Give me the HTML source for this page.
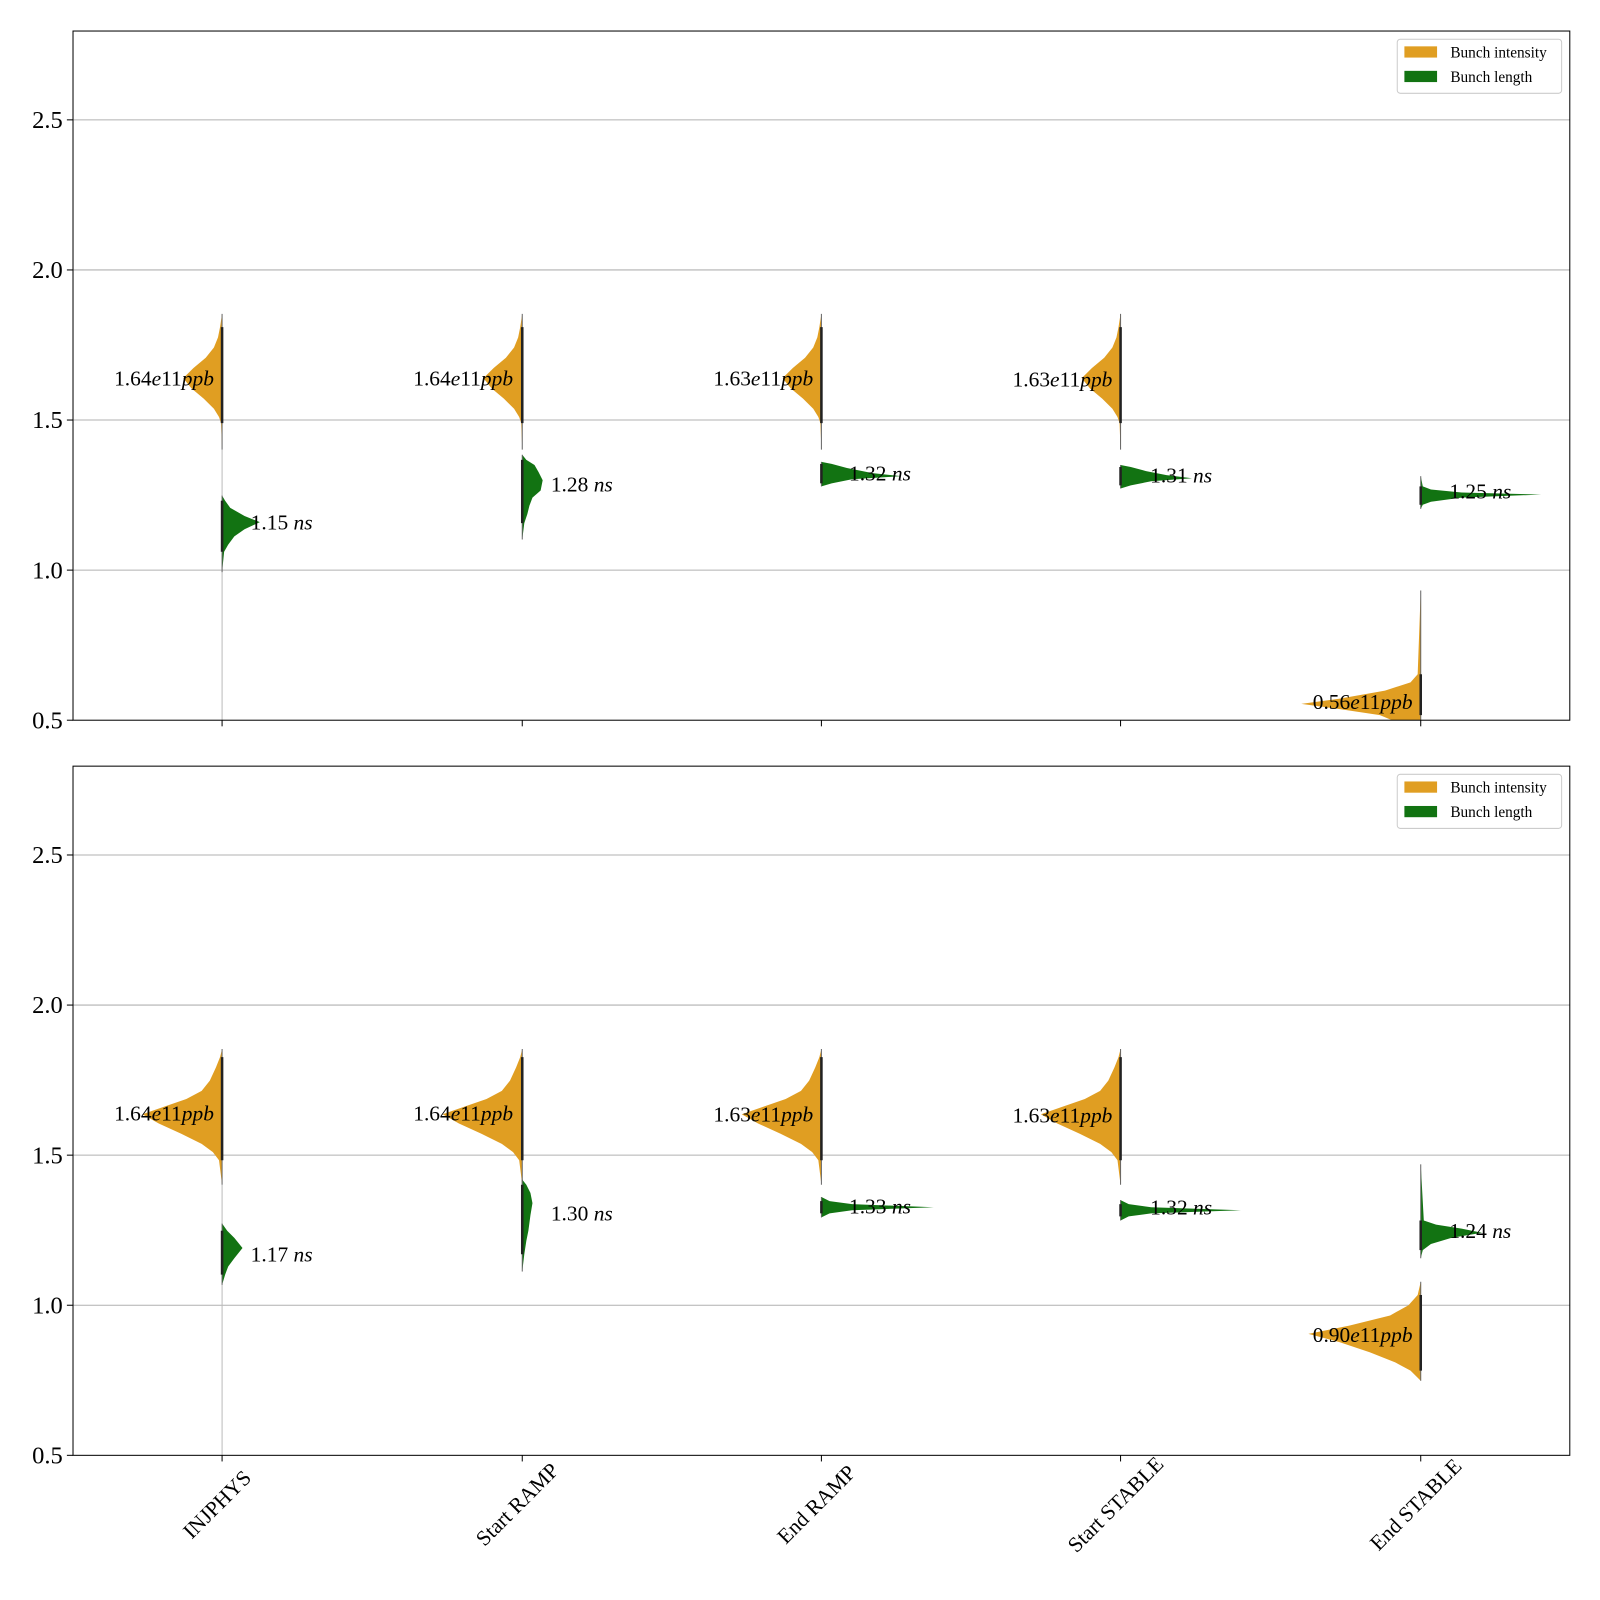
<!DOCTYPE html>
<html><head><meta charset="utf-8"><style>
html,body{margin:0;padding:0;background:#fff;width:1600px;height:1600px;overflow:hidden}
svg{display:block;position:absolute;left:0;top:0}
text{font-family:"Liberation Serif",serif}
</style></head><body>
<svg width="1600" height="1600" xmlns="http://www.w3.org/2000/svg"><g id="s" transform="translate(-0.5,0.4) scale(1.021)"></g></svg>
<script>
const S=document.getElementById('s');let h='';
const OR='#e09e22',GR='#127312';
const xs=[218,512,805,1098,1392];
function grid(t,b){
  h+=`<rect x="72" y="${t}" width="1466" height="${b-t}" fill="#fff"/>`;
  [0.5,1,1.5,2,2.5].forEach(v=>{const y=b-(v-0.5)*294;
    if(v>0.5)h+=`<line x1="72" x2="1538" y1="${y}" y2="${y}" stroke="#b0b0b0" stroke-width="1"/>`;
    h+=`<line x1="66" x2="72" y1="${y}" y2="${y}" stroke="#000"/>`;
    h+=`<text x="62" y="${y+8}" font-size="24" text-anchor="end">${v.toFixed(1)}</text>`;});
  xs.forEach(x=>h+=`<line x1="${x}" x2="${x}" y1="${b}" y2="${b+6}" stroke="#000"/>`);
}
function vio(x,pts,side,col,off){
  let d='M'+x+','+(pts[0][0]+off);
  pts.forEach(p=>{d+=' L'+(x+side*p[1])+','+(p[0]+off)});
  d+=' L'+x+','+(pts[pts.length-1][0]+off)+'Z';
  h+=`<path d="${d}" fill="${col}"/>`;
  let a=pts[1][0]+off,b=pts[pts.length-2][0]+off;
  h+=`<line x1="${x}" x2="${x}" y1="${pts[0][0]+off}" y2="${pts[pts.length-1][0]+off}" stroke="#666" stroke-width="1"/>`;
  h+=`<line x1="${x}" x2="${x}" y1="${a}" y2="${b}" stroke="#222" stroke-width="2.5"/>`;
}
function lab(x,y,a,html){h+=`<text x="${x}" y="${y+7}" font-size="21" text-anchor="${a}">${html}</text>`}
function ppb(v){return `${v}<tspan font-style="italic">e</tspan>11<tspan font-style="italic">ppb</tspan>`}
function ns(v){return `${v} <tspan font-style="italic">ns</tspan>`}
function legend(t){
  h+=`<rect x="1369" y="${t}" width="161" height="53" rx="3" fill="#fff" stroke="#ccc"/>`;
  h+=`<rect x="1376" y="${t+7}" width="32" height="11" fill="${OR}"/><text x="1421" y="${t+18}" font-size="15">Bunch intensity</text>`;
  h+=`<rect x="1376" y="${t+31}" width="32" height="11" fill="${GR}"/><text x="1421" y="${t+42}" font-size="15">Bunch length</text>`;
}
grid(30,705);
h+=`<line x1="218" x2="218" y1="440" y2="705" stroke="#bbb"/>`;
const oTop=[[307,0],[320,2],[330,4],[340,8],[350,16],[360,28],[370,38],[380,30],[390,18],[400,8],[408,3],[414,1],[440,0]];
[0,1,2,3].forEach(i=>vio(xs[i],oTop,-1,OR,0));
lab(210,370,'end',ppb('1.64'));lab(503,370,'end',ppb('1.64'));lab(797,370,'end',ppb('1.63'));lab(1090,371,'end',ppb('1.63'));
vio(218,[[485,0],[490,3],[497,8],[505,22],[511,37],[518,22],[525,12],[533,6],[540,2],[560,0]],1,GR,0);lab(246,511,'start',ns('1.15'));
vio(512,[[445,0],[450,4],[455,12],[462,16],[470,20],[480,18],[487,10],[495,7],[503,5],[512,2],[528,0]],1,GR,0);lab(540,474,'start',ns('1.28'));
vio(805,[[452,0],[454,10],[458,25],[463,50],[466,78],[469,30],[473,10],[476,0]],1,GR,0);lab(832,463,'start',ns('1.32'));
vio(1098,[[455,0],[457,10],[461,25],[465,45],[468,70],[471,30],[475,10],[478,0]],1,GR,0);lab(1127,465,'start',ns('1.31'));
vio(1392,[[466,0],[476,2],[479,10],[482,40],[484,118],[487,40],[491,10],[494,2],[498,0]],1,GR,0);lab(1420,481,'start',ns('1.25'));
vio(1392,[[578,0],[660,3],[668,10],[676,35],[684,80],[689,117],[694,80],[700,40],[705,28]],-1,OR,0);lab(1384,687,'end',ppb('0.56'));
h+=`<rect x="72" y="30" width="1466" height="675" fill="none" stroke="#000" stroke-width="1"/>`;
legend(38);
grid(750,1425);
h+=`<line x1="218" x2="218" y1="1160" y2="1425" stroke="#bbb"/>`;
const oBot=[[1027,0],[1035,2],[1045,6],[1058,12],[1068,20],[1076,35],[1084,58],[1091,78],[1100,62],[1110,40],[1120,20],[1128,9],[1136,3],[1160,0]];
[0,1,2,3].forEach(i=>vio(xs[i],oBot,-1,OR,0));
lab(210,1090,'end',ppb('1.64'));lab(503,1090,'end',ppb('1.64'));lab(797,1091,'end',ppb('1.63'));lab(1090,1092,'end',ppb('1.63'));
vio(218,[[1198,0],[1205,5],[1212,12],[1222,20],[1232,12],[1240,6],[1248,3],[1258,0]],1,GR,0);lab(246,1228,'start',ns('1.17'));
vio(512,[[1155,0],[1160,4],[1168,8],[1178,10],[1190,8],[1205,6],[1215,4],[1228,2],[1245,0]],1,GR,0);lab(540,1188,'start',ns('1.30'));
vio(805,[[1172,0],[1176,8],[1179,30],[1182,110],[1185,30],[1188,8],[1192,0]],1,GR,0);lab(832,1181,'start',ns('1.33'));
vio(1098,[[1175,0],[1179,8],[1182,30],[1185,118],[1188,30],[1191,8],[1195,0]],1,GR,0);lab(1127,1182,'start',ns('1.32'));
vio(1392,[[1140,0],[1195,3],[1199,15],[1203,40],[1207,60],[1212,30],[1218,10],[1224,2],[1232,0]],1,GR,0);lab(1420,1205,'start',ns('1.24'));
vio(1392,[[1255,0],[1268,3],[1278,12],[1288,30],[1298,70],[1306,110],[1314,80],[1324,50],[1334,25],[1342,10],[1352,0]],-1,OR,0);lab(1384,1307,'end',ppb('0.90'));
h+=`<rect x="72" y="750" width="1466" height="675" fill="none" stroke="#000" stroke-width="1"/>`;
legend(758);
['INJPHYS','Start RAMP','End RAMP','Start STABLE','End STABLE'].forEach((t,i)=>{
  h+=`<text transform="translate(${xs[i]},${1478}) rotate(-45)" font-size="21" text-anchor="middle">${t}</text>`;});
S.innerHTML=h;
</script>
</body></html>
